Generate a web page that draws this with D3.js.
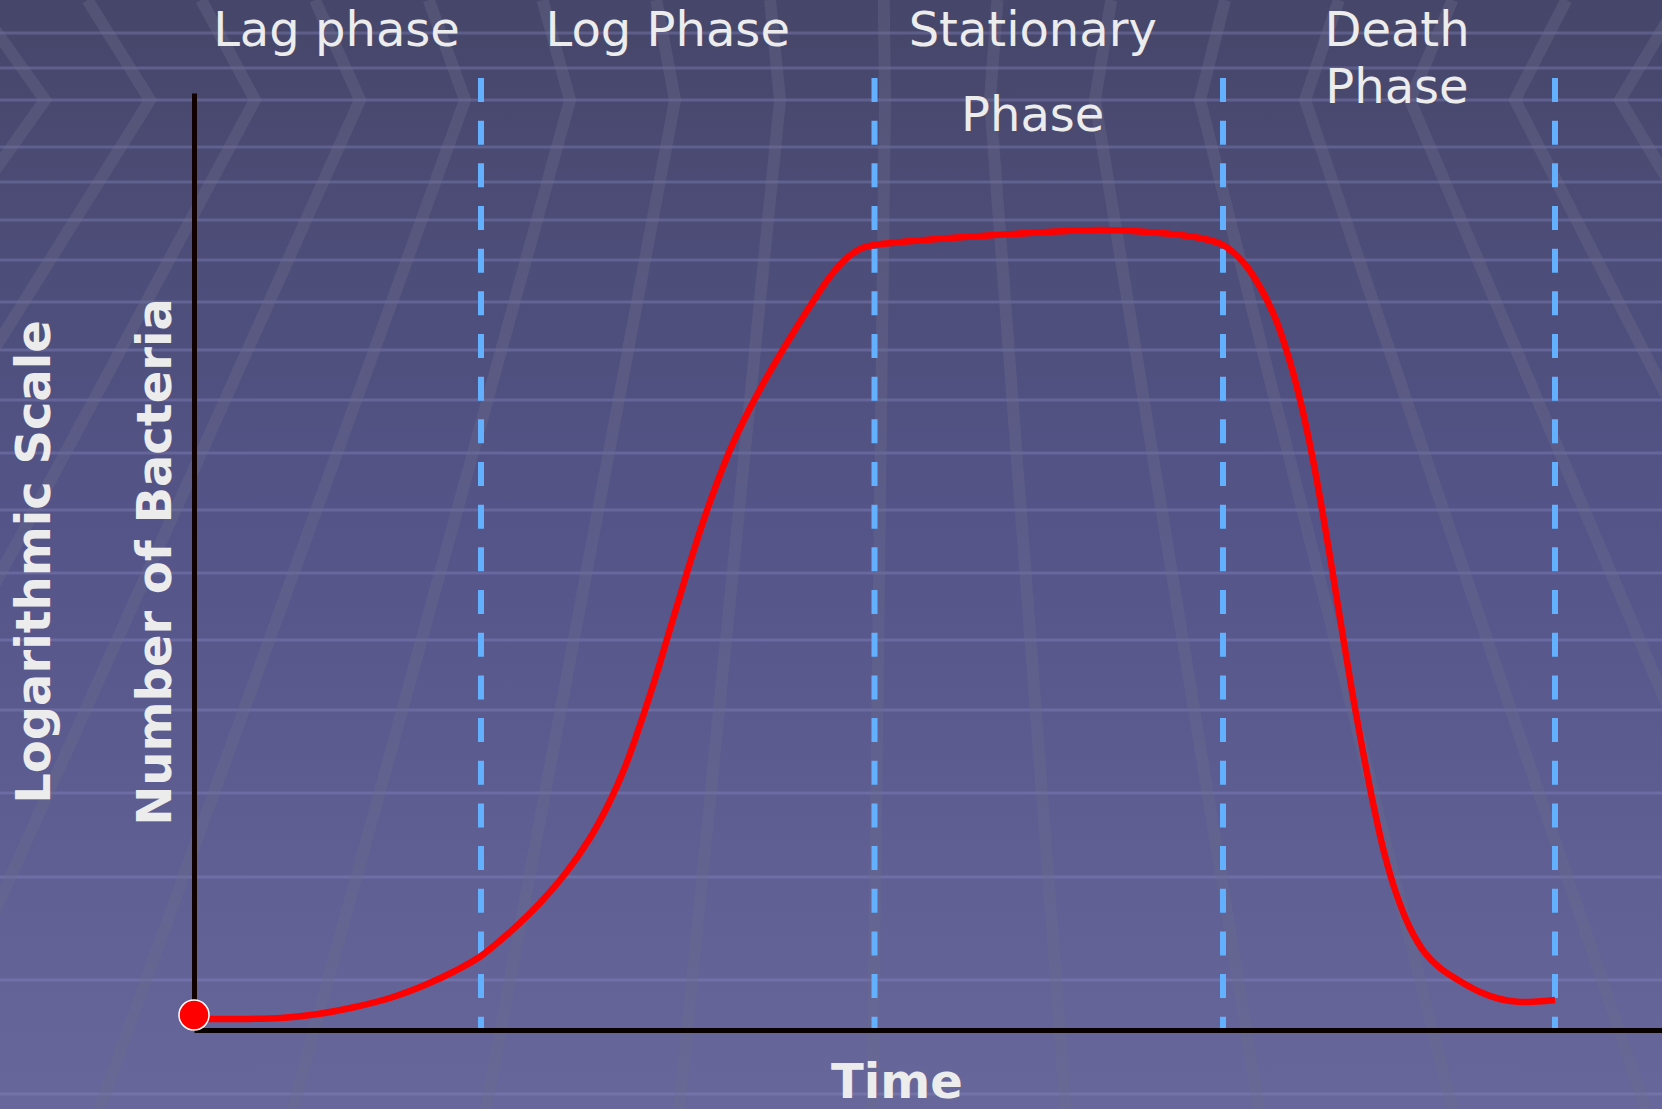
<!DOCTYPE html>
<html>
<head>
<meta charset="utf-8">
<script src="https://cdn.jsdelivr.net/npm/d3@7"></script>
<style>
  body { margin: 0; background: #56568a; overflow: hidden; }
  svg { display: block; }
</style>
</head>
<body>
<div id="chart"></div>
<script>
// growth curve: time in hours, log10 of cell count
const timeHrs = [0, 0.92, 1.74, 2.48, 3.22, 3.92, 4.62, 5.22, 5.74,
    6.32, 6.92, 7.42, 7.92, 8.32, 8.62, 8.92, 9.22, 9.52, 9.82, 10.12, 10.42, 10.72, 11.08,
    11.48, 11.92, 12.36, 12.76, 13.08, 13.36, 13.6,
    15.12, 16.72, 18.12, 19.32, 20.12, 20.58,
    20.98, 21.32, 21.64, 21.92, 22.16, 22.38, 22.58, 22.78, 22.98, 23.18, 23.38, 23.58,
    23.8, 24.04, 24.32, 24.62, 24.92, 25.28, 25.72, 26.12, 26.52, 27.22];
const logCount = [0.11, 0.11, 0.12, 0.16, 0.23, 0.32, 0.45, 0.59, 0.74,
    0.98, 1.27, 1.56, 1.92, 2.29, 2.63, 3.05, 3.51, 4.01, 4.51, 4.99, 5.42, 5.8, 6.18,
    6.55, 6.92, 7.27, 7.56, 7.73, 7.82, 7.85,
    7.92, 7.97, 8.0, 7.97, 7.92, 7.85,
    7.68, 7.43, 7.1, 6.68, 6.22, 5.7, 5.15, 4.55, 3.93, 3.33, 2.78, 2.27,
    1.78, 1.37, 1.02, 0.77, 0.62, 0.5, 0.38, 0.31, 0.28, 0.3];

// phases: end time of each phase and its label lines
const phaseEnds = [5.74, 13.61, 20.58, 27.22];
const phaseNames = [["Lag phase"], ["Log Phase"], ["Stationary", "Phase"], ["Death", "Phase"]];

const yTitle = "Logarithmic Scale";
const yTitle2 = "Number of Bacteria";
const xTitle = "Time";

// background decoration (slide template stripes)
const bgStripeY = [33, 68, 100, 147, 182, 220, 260, 302, 350, 400, 453, 510, 573, 640, 710, 793, 877, 980, 1094];

const W = 1662, H = 1109;
const textColor = "#ececec";

const svg = d3.select("#chart")
    .append("svg")
    .attr("width", W)
    .attr("height", H);

const x = d3.scaleLinear().domain([0, 29.36]).range([194, W]);
const y = d3.scaleLinear().domain([0, 10]).range([1030, 30]);

// Background gradient
const grad = svg.append("defs").append("linearGradient")
    .attr("id", "bg").attr("x1", 0).attr("y1", 0).attr("x2", 0).attr("y2", 1);
grad.append("stop").attr("offset", "0%").attr("stop-color", "#46466a");
grad.append("stop").attr("offset", "50%").attr("stop-color", "#55558a");
grad.append("stop").attr("offset", "100%").attr("stop-color", "#67679b");
svg.append("rect").attr("width", W).attr("height", H).attr("fill", "url(#bg)");

svg.append("g").selectAll("line")
    .data(bgStripeY)
    .join("line")
    .attr("x1", 0).attr("x2", W)
    .attr("y1", d => d).attr("y2", d => d)
    .attr("stroke", "#9090cc")
    .attr("stroke-opacity", 0.33)
    .attr("stroke-width", 3);

// perspective bands, folded near the top
const fold = 100;
const bands = d3.range(-3, 18).map(k => 45 + 105 * k);
svg.append("g").selectAll("polyline")
    .data(bands)
    .join("polyline")
    .attr("points", x0 => {
        const s = (x0 - 900) / 1200;
        return [[x0 + s * fold, 0], [x0, fold], [x0 + s * (H - fold), H]].map(p => p.join(",")).join(" ");
    })
    .attr("fill", "none")
    .attr("stroke", "#6e6e8c")
    .attr("stroke-opacity", 0.35)
    .attr("stroke-width", 12);

// Phase boundaries
svg.append("g").selectAll("line")
    .data(phaseEnds)
    .join("line")
    .attr("x1", d => x(d)).attr("x2", d => x(d))
    .attr("y1", 78).attr("y2", y(0))
    .attr("stroke", "#62b0ff")
    .attr("stroke-width", 6)
    .attr("stroke-dasharray", "24 18.67");

// Axes (no ticks, just the lines)
const yAxisScale = y.copy().domain([0, 9.37]).range([y(0), y(9.37)]);
svg.append("g")
    .attr("transform", `translate(0,${y(0)})`)
    .call(d3.axisBottom(x).tickValues([]).tickSizeOuter(0))
    .select(".domain").attr("stroke", "#080000").attr("stroke-width", 5);
svg.append("g")
    .attr("transform", `translate(${x(0)},0)`)
    .call(d3.axisLeft(yAxisScale).tickValues([]).tickSizeOuter(0))
    .select(".domain").attr("stroke", "#100000").attr("stroke-width", 5);

// Growth curve
const pts = d3.zip(timeHrs, logCount);
svg.append("path")
    .datum(pts)
    .attr("fill", "none")
    .attr("stroke", "#ff0000")
    .attr("stroke-width", 6.5)
    .attr("stroke-linejoin", "round")
    .attr("d", d3.line()
        .x(d => x(d[0]))
        .y(d => y(d[1]))
        .curve(d3.curveCatmullRom.alpha(0.5)));

svg.append("circle")
    .attr("cx", x(timeHrs[0]))
    .attr("cy", y(logCount[0]) - 4)
    .attr("r", 15)
    .attr("fill", "#ff0000")
    .attr("stroke", "#ffffff")
    .attr("stroke-width", 1.5);

// Phase labels, centred over each phase
const nudge = [-1, -10, -16, 8];
const lineGap = [0, 0, 85, 57];
const starts = [0].concat(phaseEnds.slice(0, -1));
phaseNames.forEach((lines, i) => {
    const cx = (x(starts[i]) + x(phaseEnds[i])) / 2 + nudge[i];
    lines.forEach((t, j) => {
        svg.append("text")
            .attr("x", cx)
            .attr("y", 46 + j * lineGap[i])
            .attr("text-anchor", "middle")
            .attr("font-family", "'DejaVu Sans', Verdana, sans-serif")
            .attr("font-size", 48)
            .attr("fill", textColor)
            .text(t);
    });
});

// Axis titles
const bold = sel => sel
    .attr("text-anchor", "middle")
    .attr("font-family", "'DejaVu Sans', Verdana, sans-serif")
    .attr("font-weight", "bold")
    .attr("font-size", 48)
    .attr("fill", textColor);

svg.append("text").call(bold)
    .attr("transform", "translate(50,562) rotate(-90)")
    .text(yTitle);
svg.append("text").call(bold)
    .attr("transform", "translate(171,562) rotate(-90)")
    .text(yTitle2);
svg.append("text").call(bold)
    .attr("x", 897).attr("y", 1098)
    .text(xTitle);
</script>
</body>
</html>
